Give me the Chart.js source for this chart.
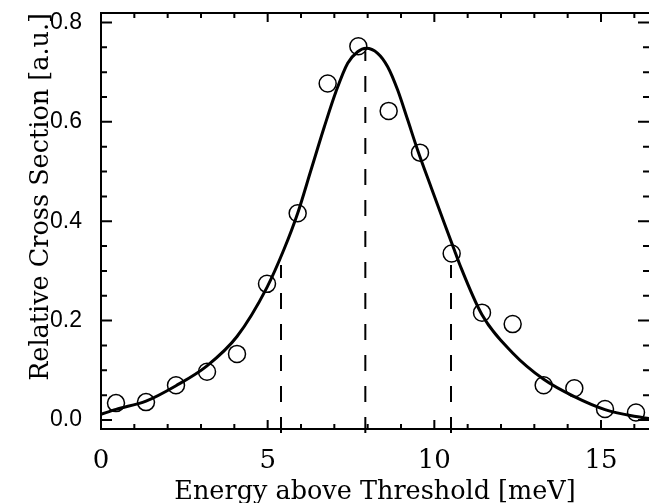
<!DOCTYPE html>
<html>
<head>
<meta charset="utf-8">
<script src="https://cdn.jsdelivr.net/npm/chart.js@4/dist/chart.umd.min.js"></script>
<style>
html,body{margin:0;padding:0;background:#fff;}
#wrap{width:649px;height:503px;}
</style>
</head>
<body>
<div id="wrap"><canvas id="c" width="649" height="503"></canvas></div>
<script>
// measured data points (circles)
const pointX = [0.45, 1.35, 2.25, 3.18, 4.08, 4.98, 5.90, 6.80, 7.72, 8.63, 9.57, 10.52, 11.43, 12.35, 13.28, 14.20, 15.12, 16.05];
const pointY = [0.034, 0.036, 0.070, 0.097, 0.133, 0.274, 0.416, 0.677, 0.752, 0.622, 0.538, 0.335, 0.216, 0.193, 0.070, 0.064, 0.022, 0.015];

// fitted curve
const curveX = [0, 0.45, 1.35, 2.25, 3.18, 4.08, 4.98, 5.5, 5.9, 6.3, 6.7, 7.05, 7.4, 7.7, 7.95, 8.3, 8.6, 8.9, 9.2, 9.5, 9.9, 10.3, 10.6, 10.75, 11.43, 12.35, 13.28, 14.2, 15.12, 16.05, 16.44];
const curveY = [0.0115, 0.0215, 0.038, 0.069, 0.109, 0.168, 0.267, 0.345, 0.416, 0.503, 0.590, 0.661, 0.718, 0.741, 0.748, 0.738, 0.711, 0.664, 0.604, 0.543, 0.469, 0.396, 0.342, 0.315, 0.212, 0.135, 0.082, 0.047, 0.021, 0.007, 0.003];

// vertical dashed markers (x position, top value)
const markerX = [5.40, 7.93, 10.50];
const markerTop = [0.312, 0.742, 0.312];

const xTickVals = [0, 5, 10, 15];
const xTickLabels = ['0', '5', '10', '15'];
const yTickVals = [0, 0.2, 0.4, 0.6, 0.8];
const yTickLabels = ['0.0', '0.2', '0.4', '0.6', '0.8'];

const X_MIN = 0, X_MAX = 16.44, Y_MIN = -0.0181, Y_MAX = 0.819;

const datasets = [];
markerX.forEach((mx, i) => {
  datasets.push({
    type: 'line', data: [{x: mx, y: -0.026}, {x: mx, y: markerTop[i]}],
    borderColor: '#000', borderWidth: 2, borderDash: [16, 15], pointRadius: 0, clip: false, tension: 0
  });
});
datasets.push({
  type: 'line', data: curveX.map((x, i) => ({x, y: curveY[i]})),
  borderColor: '#000', borderWidth: 3, pointRadius: 0, cubicInterpolationMode: 'monotone', fill: false
});
datasets.push({
  type: 'scatter', data: pointX.map((x, i) => ({x, y: pointY[i]})),
  pointStyle: 'circle', pointRadius: 8.5, borderWidth: 1.5, borderColor: '#000',
  backgroundColor: 'rgba(0,0,0,0)', showLine: false
});

const framePlugin = {
  id: 'frame',
  afterDatasetsDraw(chart) {
    const ctx = chart.ctx, a = chart.chartArea;
    const xs = chart.scales.x, ys = chart.scales.y;
    ctx.save();
    ctx.strokeStyle = '#000';
    ctx.lineWidth = 2;
    ctx.lineCap = 'butt';
    ctx.beginPath();
    ctx.moveTo(a.left, a.top - 1); ctx.lineTo(a.left, a.bottom + 1);
    ctx.moveTo(a.left - 1, a.bottom); ctx.lineTo(a.right + 1, a.bottom);
    ctx.moveTo(a.left - 1, a.top); ctx.lineTo(a.right + 1, a.top);
    ctx.stroke();
    ctx.beginPath();
    for (let v = 0; v <= 16; v++) {
      const px = xs.getPixelForValue(v);
      const len = v % 5 === 0 ? 9 : 5;
      ctx.moveTo(px, a.bottom); ctx.lineTo(px, a.bottom - len);
      ctx.moveTo(px, a.top); ctx.lineTo(px, a.top + len);
    }
    for (let k = 0; k <= 16; k++) {
      const v = k * 0.05;
      const py = ys.getPixelForValue(v);
      const len = k % 4 === 0 ? 11 : 6;
      ctx.moveTo(a.left, py); ctx.lineTo(a.left + len, py);
      ctx.moveTo(a.right, py); ctx.lineTo(a.right - len, py);
    }
    ctx.stroke();
    ctx.restore();
  }
};

new Chart(document.getElementById('c'), {
  type: 'scatter',
  data: { datasets },
  options: {
    responsive: false, animation: false, devicePixelRatio: 1,
    layout: { autoPadding: false, padding: { left: 0, right: 0, top: 13, bottom: 0 } },
    plugins: { legend: { display: false }, tooltip: { enabled: false } },
    scales: {
      x: {
        type: 'linear', min: X_MIN, max: X_MAX,
        grid: { display: false, drawTicks: false },
        border: { display: false },
        afterBuildTicks: s => { s.ticks = xTickVals.map(v => ({value: v})); },
        afterFit: s => { s.height = 74; s.paddingLeft = 0; s.paddingRight = 0; },
        ticks: {
          color: '#000', padding: 17, maxRotation: 0, autoSkip: false,
          font: { family: 'DejaVu Serif', size: 26 },
          callback: (v) => xTickLabels[xTickVals.indexOf(v)]
        },
        title: {
          display: true, text: 'Energy above Threshold [meV]', color: '#000',
          font: { family: 'DejaVu Serif', size: 25.5, lineHeight: 1 },
          padding: { top: 0, bottom: -2 }
        }
      },
      y: {
        type: 'linear', min: Y_MIN, max: Y_MAX,
        grid: { display: false, drawTicks: false },
        border: { display: false },
        afterBuildTicks: s => { s.ticks = yTickVals.map(v => ({value: v})); },
        afterFit: s => { s.width = 101; s.paddingTop = 0; s.paddingBottom = 0; },
        ticks: {
          color: '#000', padding: 19, autoSkip: false,
          font: { family: 'Liberation Sans', size: 23 },
          callback: (v) => yTickLabels[yTickVals.indexOf(v)]
        },
        title: {
          display: true, text: 'Relative Cross Section [a.u.]', color: '#000', align: 'end',
          font: { family: 'DejaVu Serif', size: 25.5, lineHeight: 1 },
          padding: { top: 29, bottom: 0 }
        }
      }
    }
  },
  plugins: [framePlugin]
});
</script>
</body>
</html>
